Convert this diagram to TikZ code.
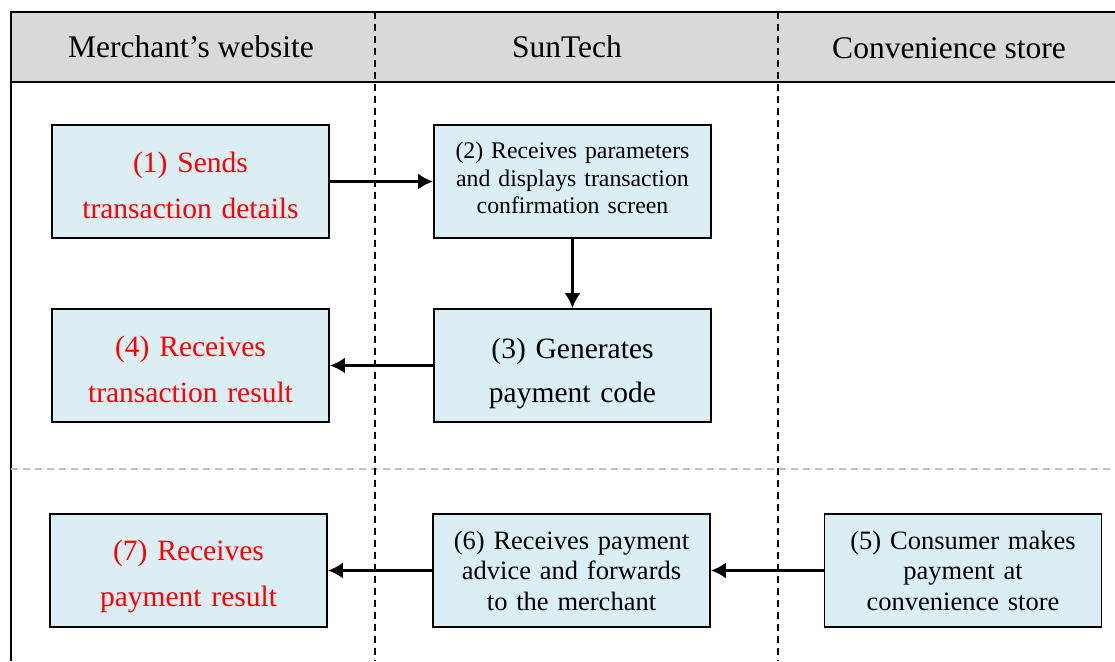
\documentclass[tikz,border=0pt]{standalone}
\usepackage{fontspec}
\setmainfont{Liberation Serif}
\usetikzlibrary{arrows.meta}
\definecolor{hdrgray}{HTML}{D9D9D9}
\definecolor{boxblue}{HTML}{DAEEF3}
\definecolor{sepgray}{HTML}{BFBFBF}
\definecolor{redtxt}{HTML}{FF0000}
\tikzset{
  stepbox/.style={draw=black, line width=1.8pt, fill=boxblue, minimum width=277pt, minimum height=113pt, inner sep=0pt, align=center, text width=270pt},
  firstbase/.style={text height=0pt, text depth=#1},
  bigred/.style={text=redtxt, font=\fontsize{29.5}{46.5}\selectfont},
  bigblack/.style={font=\fontsize{29.5}{44.5}\selectfont},
  midtxt/.style={font=\fontsize{26.5}{30.5}\selectfont},
  smalltxt/.style={font=\fontsize{23.8}{27.5}\selectfont},
  hdr/.style={font=\fontsize{31.5}{36}\selectfont, inner sep=0pt},
  flow/.style={line width=2.6pt, -{Latex[length=15pt,width=16pt]}},
  lane/.style={line width=1.3pt, dash pattern=on 7pt off 5pt},
}
\begin{document}
\begin{tikzpicture}[x=1pt,y=-1pt]
\useasboundingbox (0,0) rectangle (1115,661);
% header band
\fill[hdrgray] (11,12) rectangle (1115,82);
\draw[line width=2pt] (1115,12) -- (11,12) -- (11,661);
\draw[line width=2pt] (11,82) -- (1115,82);
% separator
\draw[sepgray, line width=2pt, dash pattern=on 7pt off 5pt] (11,469) -- (1115,469);
% lanes
\draw[lane] (375,12) -- (375,661);
\draw[lane] (778,12) -- (778,661);
% headers
\node[hdr] (h1) at (191,47) {Merchant’s website};
\node[hdr] (h2) at (567,47) {SunTech};
\node[hdr] (h3) at (949,48) {Convenience store};
% boxes
\node[stepbox, bigred, firstbase=19pt] (b1) at (190.5,181.5) {(1) Sends\\transaction details};
\node[stepbox, smalltxt, firstbase=46pt] (b2) at (572.5,181.5) {(2) Receives parameters\\and displays transaction\\confirmation screen};
\node[stepbox, bigblack, firstbase=15pt] (b3) at (572.5,365.5) {(3) Generates\\payment code};
\node[stepbox, bigred, firstbase=19pt] (b4) at (190.5,365.5) {(4) Receives\\transaction result};
\node[stepbox, bigred, firstbase=21pt] (b7) at (188.5,570.5) {(7) Receives\\payment result};
\node[stepbox, midtxt] (b6) at (571.5,570.5) {(6) Receives payment\\advice and forwards\\to the merchant};
\node[stepbox, midtxt] (b5) at (963,570.5) {(5) Consumer makes\\payment at\\convenience store};
% flows
\draw[flow] (b1) -- (b2);
\draw[flow] (b2) -- (b3);
\draw[flow] (b3) -- (b4);
\draw[flow] (b5) -- (b6);
\draw[flow] (b6) -- (b7);
\end{tikzpicture}
\end{document}
